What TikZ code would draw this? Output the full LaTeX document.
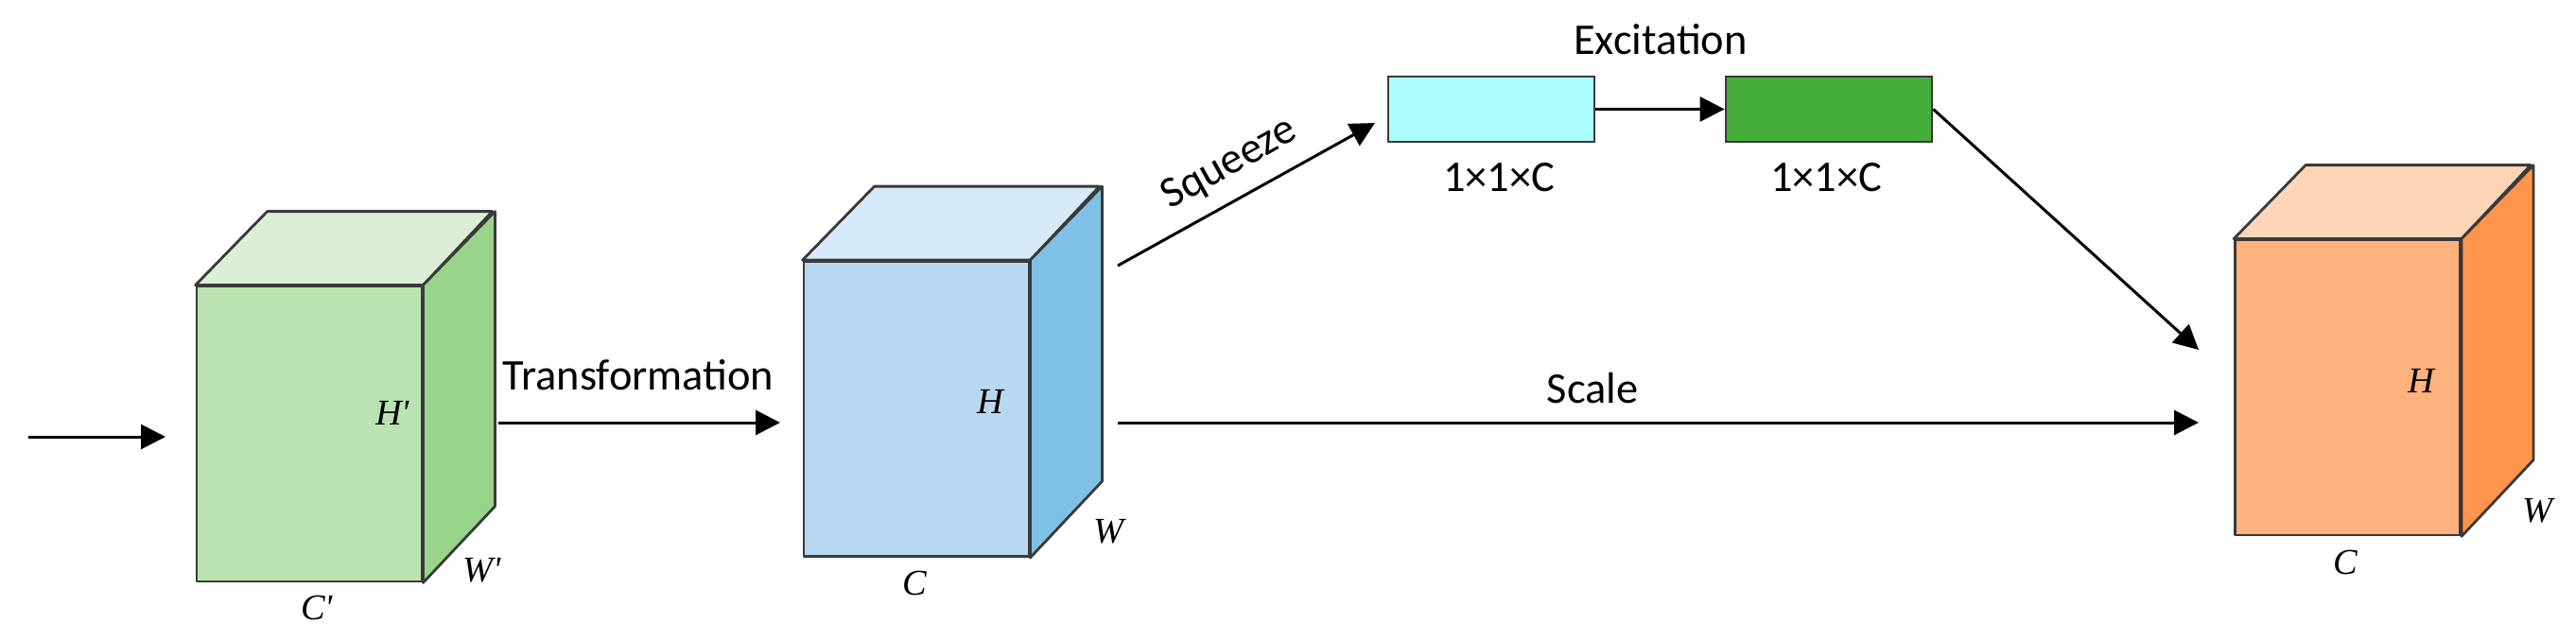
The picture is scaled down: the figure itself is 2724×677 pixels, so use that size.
\documentclass[tikz,border=0pt]{standalone}
\usepackage{fontspec}
\setmainfont{Carlito}
\newfontfamily\dimfont{Liberation Serif}
\usetikzlibrary{arrows.meta,calc}
\definecolor{edgec}{HTML}{3A3A3A}
\definecolor{gfront}{HTML}{BBE3B1}
\definecolor{gtop}{HTML}{DAEFD6}
\definecolor{gside}{HTML}{98D48A}
\definecolor{bfront}{HTML}{B8D8F0}
\definecolor{btop}{HTML}{D6EAF7}
\definecolor{bside}{HTML}{7FC0E5}
\definecolor{ofront}{HTML}{FFB27E}
\definecolor{otop}{HTML}{FFD5B8}
\definecolor{oside}{HTML}{FF954C}
\definecolor{cyanbox}{HTML}{ADFFFF}
\definecolor{greenbox}{HTML}{45AD3A}
\begin{document}
\begin{tikzpicture}[x=0.25pt,y=-0.25pt,
  face/.style={draw=edgec,line width=0.7pt,line join=round},
  frontface/.style={face,rectangle,inner sep=0pt,minimum width=59.5pt,minimum height=78pt},
  vecbox/.style={draw=edgec,line width=0.7pt,rectangle,inner sep=0pt,minimum width=54.5pt,minimum height=17.25pt},
  arr/.style={line width=0.75pt,-{Triangle[length=6.5pt,width=6.5pt]}},
  lbl/.style={font=\fontsize{11.6}{13}\selectfont,inner sep=0pt},
  dim/.style={font=\dimfont\itshape\fontsize{9.6}{11}\selectfont,inner sep=0pt}]
\useasboundingbox (0,0) rectangle (2724,677);

% green cube
\node[frontface,fill=gfront] (gf) at (327,459) {};
\draw[face,fill=gtop] (gf.north west) -- ++(76,-78) -- ++(238,0) -- (gf.north east) -- cycle;
\draw[face,fill=gside] (gf.north east) -- ++(76,-78) -- ++(0,312) -- (gf.south east) -- cycle;
\node[dim] (gH) at (415,437) {H'};
\node[dim] (gW) at (510,603) {W'};
\node[dim] (gC) at (335,643) {C'};

% blue cube
\node[frontface,fill=bfront] (bf) at (969,432.5) {};
\draw[face,fill=btop] (bf.north west) -- ++(76,-78) -- ++(238,0) -- (bf.north east) -- cycle;
\draw[face,fill=bside] (bf.north east) -- ++(76,-78) -- ++(0,312) -- (bf.south east) -- cycle;
\node[dim] (bH) at (1047,425) {H};
\node[dim] (bW) at (1172,562) {W};
\node[dim] (bC) at (967,617) {C};

% orange cube
\node[frontface,fill=ofront] (of) at (2482.5,410) {};
\draw[face,fill=otop] (of.north west) -- ++(76,-78) -- ++(238,0) -- (of.north east) -- cycle;
\draw[face,fill=oside] (of.north east) -- ++(76,-78) -- ++(0,312) -- (of.south east) -- cycle;
\node[dim] (oH) at (2560,403) {H};
\node[dim] (oW) at (2683,540) {W};
\node[dim] (oC) at (2480,595) {C};

% vectors
\node[vecbox,fill=cyanbox] (cb) at (1577,115.5) {};
\node[vecbox,fill=greenbox] (eb) at (1934,115.5) {};
\node[lbl,anchor=base] (cbl) at (1585,202) {1×1×C};
\node[lbl,anchor=base] (ebl) at (1931,202) {1×1×C};
\node[lbl,anchor=base] (exc) at (1756,57) {Excitation};

% connector end points
\coordinate (inS) at (30,462);
\coordinate (inE) at (175,462);
\coordinate (trS) at (527,447);
\coordinate (trE) at (825,447);
\coordinate (scS) at (1182,447);
\coordinate (scE) at (2325,447);
\coordinate (sqS) at (1182,281);
\coordinate (sqE) at (1454,130);
\coordinate (exE) at (2325,370);

\draw[arr] (inS) -- (inE);
\draw[arr] (trS) -- (trE);
\node[lbl,anchor=base] (trl) at (675,412) {Transformation};
\draw[arr] (scS) -- (scE);
\node[lbl,anchor=base] (scl) at (1684,426) {Scale};
\draw[arr] (sqS) -- node[lbl,sloped,above=4pt,pos=0.5] (sql) {Squeeze} (sqE);
\draw[arr] (cb.east) -- (eb.west);
\draw[arr] (eb.east) -- (exE);
\end{tikzpicture}
\end{document}
